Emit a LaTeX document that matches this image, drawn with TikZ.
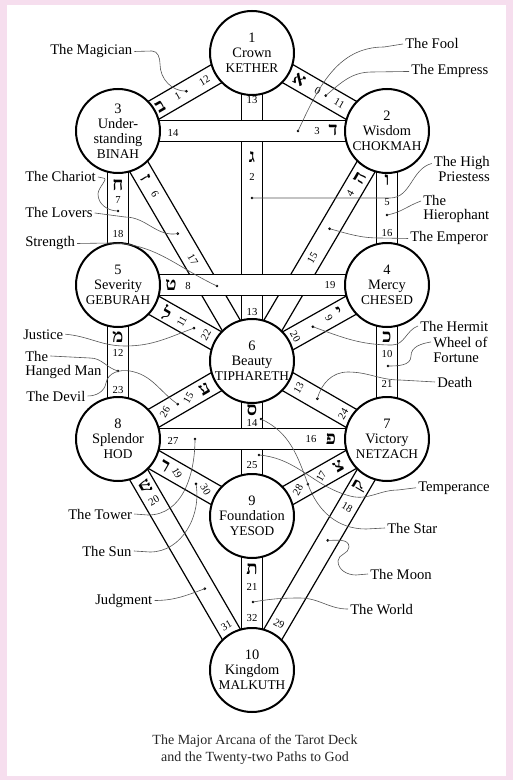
\documentclass[tikz,border=0pt]{standalone}
\usepackage{fontspec}
\setmainfont{Liberation Serif}
\newfontfamily\hebfont[Script=Hebrew]{Liberation Serif}
\usetikzlibrary{calc}
\definecolor{pinkbg}{RGB}{246,222,238}
\definecolor{leadgray}{RGB}{85,85,85}
\newcommand\sephcaps[1]{{\fontsize{10pt}{11.25pt}\selectfont #1}}
\newcommand\pathband[2]{%
  \draw[bandline] ($(#1)!7.8pt!90:(#2)$) -- ($(#2)!7.8pt!-90:(#1)$);
  \draw[bandline] ($(#1)!7.8pt!-90:(#2)$) -- ($(#2)!7.8pt!90:(#1)$);}
\begin{document}
\begin{tikzpicture}[x=0.75pt,y=-0.75pt,
  sephira/.style={circle,draw,line width=1.5pt,fill=white,minimum size=63pt,inner sep=0pt,align=center,font=\fontsize{10.8pt}{11.25pt}\selectfont},
  bandline/.style={line width=0.9pt},
  hband/.style={line width=0.9pt,fill=white},
  num/.style={font=\fontsize{8pt}{8pt}\selectfont,inner sep=0pt},
  heb/.style={font=\hebfont\bfseries\fontsize{14pt}{14pt}\selectfont,inner sep=0pt},
  lab/.style={font=\fontsize{11pt}{11pt}\selectfont,inner sep=1.5pt},
  capt/.style={font=\fontsize{10.5pt}{10.5pt}\selectfont,inner sep=0pt,text=black!85},
  leader/.style={draw=leadgray,line width=0.45pt}
]
\useasboundingbox (0,0) rectangle (513,780);
\fill[pinkbg] (0,0) rectangle (513,780);
\fill[white] (7,5) rectangle (506,776);

% centres
\coordinate (cK) at (252,53);
\coordinate (cC) at (387,131);
\coordinate (cB) at (118,131);
\coordinate (cCh) at (387,285);
\coordinate (cG) at (118,285);
\coordinate (cT) at (252,361);
\coordinate (cN) at (387,439);
\coordinate (cH) at (118,439);
\coordinate (cY) at (252,516);
\coordinate (cM) at (252,670);

% bands
\pathband{cK}{cB}
\pathband{cK}{cC}
\pathband{cK}{cT}
\pathband{cB}{cG}
\pathband{cB}{cT}
\pathband{cC}{cCh}
\pathband{cC}{cT}
\pathband{cG}{cT}
\pathband{cCh}{cT}
\pathband{cG}{cH}
\pathband{cCh}{cN}
\pathband{cT}{cH}
\pathband{cT}{cN}
\pathband{cT}{cY}
\pathband{cH}{cY}
\pathband{cN}{cY}
\pathband{cH}{cM}
\pathband{cN}{cM}
\pathband{cY}{cM}
\filldraw[hband] ($(cB)+(0,-10.4)$) rectangle ($(cC)+(0,10.4)$);
\filldraw[hband] ($(cG)+(0,-10.4)$) rectangle ($(cCh)+(0,10.4)$);
\filldraw[hband] ($(cH)+(0,-10.4)$) rectangle ($(cN)+(0,10.4)$);

% sephiroth
\node[sephira] (K) at (cK) {1\\Crown\\\sephcaps{KETHER}};
\node[sephira] (C) at (cC) {2\\Wisdom\\\sephcaps{CHOKMAH}};
\node[sephira] (B) at (cB) {3\\Under-\\standing\\\sephcaps{BINAH}};
\node[sephira] (Ch) at (cCh) {4\\Mercy\\\sephcaps{CHESED}};
\node[sephira] (G) at (cG) {5\\Severity\\\sephcaps{GEBURAH}};
\node[sephira] (T) at (cT) {6\\Beauty\\\sephcaps{TIPHARETH}};
\node[sephira] (N) at (cN) {7\\Victory\\\sephcaps{NETZACH}};
\node[sephira] (H) at (cH) {8\\Splendor\\\sephcaps{HOD}};
\node[sephira] (Y) at (cY) {9\\Foundation\\\sephcaps{YESOD}};
\node[sephira] (M) at (cM) {10\\Kingdom\\\sephcaps{MALKUTH}};

% path 12 (1-3)
\node[heb,rotate=30] (h12) at ($(cB)!0.316!(cK)$) {ב};
\node[num,rotate=30] (t12) at ($(cB)!0.445!(cK)$) {1};
\coordinate (d12) at ($(cB)!0.51!(cK)$);
\node[num,rotate=30] (p12) at ($(cB)!0.645!(cK)$) {12};
% path 11 (1-2)
\node[heb,rotate=-30] (h11) at ($(cK)!0.35!(cC)$) {א};
\node[num,rotate=-30] (t11) at ($(cK)!0.486!(cC)$) {0};
\coordinate (d11) at ($(cK)!0.546!(cC)$);
\node[num,rotate=-30] (p11) at ($(cK)!0.646!(cC)$) {11};
% path 13 (1-6)
\node[num] (p13a) at (252,100) {13};
\node[heb] (h13) at (252,157) {ג};
\node[num] (t13) at (252,177) {2};
\coordinate (d13) at (252,198);
\node[num] (p13b) at (252,312) {13};
% path 14 (2-3)
\node[num] (p14) at (173,133) {14};
\coordinate (d14) at (298,131);
\node[num] (t14) at (317,131) {3};
\node[heb] (h14) at (333,130) {ד};
% path 15 (2-6)
\node[heb,rotate=60] (h15) at ($(cC)!0.203!(cT)$) {ה};
\node[num,rotate=60] (t15) at ($(cC)!0.272!(cT)$) {4};
\coordinate (d15) at ($(cC)!0.425!(cT)$);
\node[num,rotate=60] (p15) at ($(cC)!0.553!(cT)$) {15};
% path 16 (2-4)
\node[heb] (h16) at (387,180) {ו};
\node[num] (t16) at (387,202) {5};
\coordinate (d16) at (387,215);
\node[num] (p16) at (387,233) {16};
% path 17 (3-6)
\node[heb,rotate=-60] (h17) at ($(cB)!0.205!(cT)$) {ז};
\node[num,rotate=-60] (t17) at ($(cB)!0.275!(cT)$) {6};
\coordinate (d17) at ($(cB)!0.446!(cT)$);
\node[num,rotate=-60] (p17) at ($(cB)!0.559!(cT)$) {17};
% path 18 (3-5)
\node[heb] (h18) at (118,185) {ח};
\node[num] (t18) at (118,200) {7};
\coordinate (d18) at (118,211);
\node[num] (p18) at (118,234) {18};
% path 19 (4-5)
\node[heb] (h19) at (171,285) {ט};
\node[num] (t19) at (188,286) {8};
\coordinate (d19) at (217,286);
\node[num] (p19) at (330,285) {19};
% path 20 (4-6)
\node[heb,rotate=30] (h20) at ($(cCh)!0.351!(cT)$) {י};
\node[num,rotate=-60] (t20) at ($(cCh)!0.429!(cT)$) {9};
\coordinate (d20) at ($(cCh)!0.549!(cT)$);
\node[num,rotate=-60] (p20) at ($(cCh)!0.679!(cT)$) {20};
% path 21 (4-7)
\node[heb] (h21) at (387,337) {כ};
\node[num] (t21) at (387,354) {10};
\coordinate (d21) at (388,366);
\node[num] (p21) at (387,384) {21};
% path 22 (5-6)
\node[heb,rotate=-30] (h22) at ($(cG)!0.365!(cT)$) {ל};
\node[num,rotate=60] (t22) at ($(cG)!0.476!(cT)$) {11};
\coordinate (d22) at ($(cG)!0.567!(cT)$);
\node[num,rotate=60] (p22) at ($(cG)!0.656!(cT)$) {22};
% path 23 (5-8)
\node[heb] (h23) at (118,337) {מ};
\node[num] (t23) at (118,353) {12};
\coordinate (d23) at (118,371);
\node[num] (p23) at (118,390) {23};
% path 24 (6-7)
\node[num,rotate=60] (t24) at ($(cT)!0.346!(cN)$) {13};
\coordinate (d24) at ($(cT)!0.484!(cN)$);
\node[num,rotate=60] (p24) at ($(cT)!0.675!(cN)$) {24};
% path 25 (6-9)
\node[heb] (h25) at (252,410) {ס};
\node[num] (t25) at (252,423) {14};
\coordinate (d25) at (259,455);
\coordinate (d25b) at (261,419);
\node[num] (p25) at (252,465) {25};
% path 26 (6-8)
\node[num,rotate=60] (p26) at ($(cH)!0.35!(cT)$) {26};
\coordinate (d26) at ($(cH)!0.446!(cT)$);
\node[num,rotate=60] (t26) at ($(cH)!0.525!(cT)$) {15};
\node[heb,rotate=30] (h26) at ($(cH)!0.645!(cT)$) {ע};
% path 27 (7-8)
\node[num] (p27) at (173,441) {27};
\coordinate (d27) at (195,439);
\node[num] (t27) at (311,439) {16};
\node[heb] (h27) at (331,439) {פ};
% path 28 (7-9)
\node[heb,rotate=30] (h28) at ($(cN)!0.36!(cY)$) {צ};
\node[num,rotate=60] (t28) at ($(cN)!0.487!(cY)$) {17};
\coordinate (d28) at ($(cN)!0.586!(cY)$);
\node[num,rotate=60] (p28) at ($(cN)!0.66!(cY)$) {28};
% path 29 (7-10)
\node[heb,rotate=60] (h29) at ($(cN)!0.205!(cM)$) {ק};
\node[num,rotate=-30] (t29) at ($(cN)!0.295!(cM)$) {18};
\coordinate (d29) at ($(cN)!0.439!(cM)$);
\node[num,rotate=-30] (p29) at ($(cN)!0.80!(cM)$) {29};
% path 30 (8-9)
\node[heb,rotate=-30] (h30) at ($(cH)!0.35!(cY)$) {ר};
\node[num,rotate=-60] (t30) at ($(cH)!0.44!(cY)$) {19};
\coordinate (d30) at ($(cH)!0.582!(cY)$);
\node[num,rotate=-60] (p30) at ($(cH)!0.654!(cY)$) {30};
% path 31 (8-10)
\node[heb,rotate=-60] (h31) at ($(cH)!0.205!(cM)$) {ש};
\node[num,rotate=30] (t31) at ($(cH)!0.268!(cM)$) {20};
\coordinate (d31) at ($(cH)!0.648!(cM)$);
\node[num,rotate=30] (p31) at ($(cH)!0.809!(cM)$) {31};
% path 32 (9-10)
\node[heb] (h32) at (252,569) {ת};
\node[num] (t32) at (252,587) {21};
\coordinate (d32) at (253,602);
\node[num] (p32) at (252,618) {32};

% dots
\foreach \d in {d11,d12,d13,d14,d15,d16,d17,d18,d19,d20,d21,d22,d23,d24,d25,d25b,d26,d27,d28,d29,d30,d31,d32}
  \fill (\d) circle (1.1pt);

% labels left
\node[lab,anchor=base west] (lMag) at (48,55) {The Magician};
\node[lab,anchor=base west] (lChar) at (23,182) {The Chariot};
\node[lab,anchor=base west] (lLov) at (23,218) {The Lovers};
\node[lab,anchor=base west] (lStr) at (23,247) {Strength};
\node[lab,anchor=base west] (lJus) at (21,339) {Justice};
\node[lab,anchor=base west] (lHang1) at (23,361) {The};
\node[lab,anchor=base west] (lHang2) at (23,375) {Hanged Man};
\node[lab,anchor=base west] (lDev) at (24,401) {The Devil};
\node[lab,anchor=base west] (lTow) at (66,519) {The Tower};
\node[lab,anchor=base west] (lSun) at (80,556) {The Sun};
\node[lab,anchor=base west] (lJud) at (93,604) {Judgment};
% labels right
\node[lab,anchor=base west] (lFool) at (403,49) {The Fool};
\node[lab,anchor=base west] (lEmp) at (409,75) {The Empress};
\node[lab,anchor=base east] (lHP1) at (492,167) {The High};
\node[lab,anchor=base east] (lHP2) at (492,182) {Priestess};
\node[lab,anchor=base west] (lHie1) at (421,206) {The};
\node[lab,anchor=base west] (lHie2) at (421,220) {Hierophant};
\node[lab,anchor=base west] (lEmpr) at (408,242) {The Emperor};
\node[lab,anchor=base west] (lHer) at (418,331) {The Hermit};
\node[lab,anchor=base west] (lWhe1) at (431,347) {Wheel of};
\node[lab,anchor=base west] (lWhe2) at (431,362) {Fortune};
\node[lab,anchor=base west] (lDea) at (435,387) {Death};
\node[lab,anchor=base west] (lTem) at (416,491) {Temperance};
\node[lab,anchor=base west] (lStar) at (385,533) {The Star};
\node[lab,anchor=base west] (lMoon) at (368,579) {The Moon};
\node[lab,anchor=base west] (lWor) at (348,614) {The World};

% leaders
\draw[leader] (lMag.east) -- (152,51) to[out=0,in=90] (160,64) to[out=-90,in=180] (d12);
\draw[leader] (lFool.west) -- (384,47) to[out=180,in=65] (d14);
\draw[leader] (lEmp.west) -- (372,72) to[out=180,in=40] (d11);
\draw[leader] (lHP1.west) to[out=195,in=0] (390,198) -- (d13);
\draw[leader] (lHie1.west) to[out=200,in=10] (d16);
\draw[leader] (lEmpr.west) -- (380,238) to[out=180,in=-15] (d15);
\draw[leader] (lChar.east) -- (103,178) to[out=0,in=90] (98,194) to[out=-90,in=180] (d18);
\draw[leader] (lLov.east) -- (125,217) to[out=0,in=190] (d17);
\draw[leader] (lStr.east) -- (110,243) to[out=0,in=155] (d19);
\draw[leader] (lJus.east) to[out=-5,in=180] (125,346) to[out=0,in=200] (d22);
\draw[leader] (lHang1.east) -- (90,358) to[out=0,in=165] (d23);
\draw[leader] (lDev.east) to[out=0,in=-100] (106,383) to[out=80,in=170] (130,371) to[out=-10,in=145] (d26);
\draw[leader] (lTow.east) -- (148,515) to[out=0,in=-90] (d27);
\draw[leader] (lSun.east) -- (150,552) to[out=0,in=-80] (d30);
\draw[leader] (lJud.east) to[out=0,in=200] (d31);
\draw[leader] (lHer.west) to[out=200,in=0] (392,345) to[out=180,in=-20] (d20);
\draw[leader] (lWhe1.west) to[out=190,in=90] (411,356) to[out=-90,in=0] (d21);
\draw[leader] (lDea.west) -- (400,380) to[out=180,in=0] (348,372) to[out=180,in=75] (d24);
\draw[leader] (lTem.west) -- (398,490) to[out=180,in=-15] (350,496) to[out=165,in=-5] (d25);
\draw[leader] (lStar.west) -- (366,529) to[out=180,in=-70] (d28) to[out=110,in=-25] (d25b);
\draw[leader] (lMoon.west) -- (356,575) to[out=180,in=-90] (338,561) to[out=90,in=-90] (349,547) to[out=90,in=0] (d29);
\draw[leader] (lWor.west) to[out=180,in=0] (300,598) to[out=180,in=10] (d32);

% caption
\node[capt,anchor=base] (cap1) at (255,744) {The Major Arcana of the Tarot Deck};
\node[capt,anchor=base] (cap2) at (255,761) {and the Twenty-two Paths to God};
\end{tikzpicture}
\end{document}
